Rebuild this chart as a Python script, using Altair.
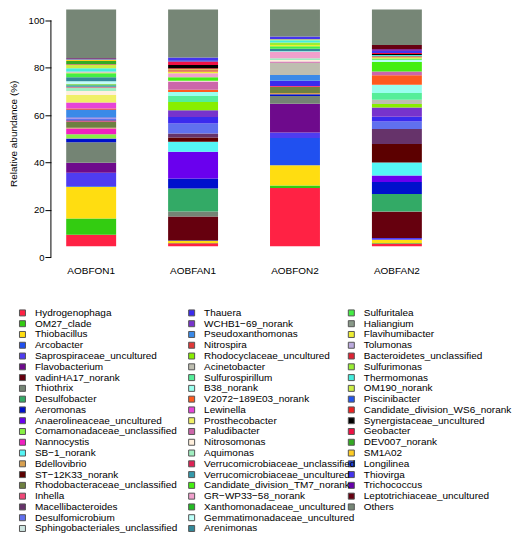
import altair as alt
import pandas as pd

SAMPLES = ["AOBFON1", "AOBFAN1", "AOBFON2", "AOBFAN2"]

CATEGORIES = [
    "Hydrogenophaga", "OM27_clade", "Thiobacillus", "Arcobacter",
    "Saprospiraceae_uncultured", "Flavobacterium", "vadinHA17_norank", "Thiothrix",
    "Desulfobacter", "Aeromonas", "Anaerolineaceae_uncultured", "Comamonadaceae_unclassified",
    "Nannocystis", "SB\u22121_norank", "Bdellovibrio", "ST\u221212K33_norank",
    "Rhodobacteraceae_unclassified", "Inhella", "Macellibacteroides", "Desulfomicrobium",
    "Sphingobacteriales_unclassified",
    "Thauera", "WCHB1\u221269_norank", "Pseudoxanthomonas", "Nitrospira",
    "Rhodocyclaceae_uncultured", "Acinetobacter", "Sulfurospirillum", "B38_norank",
    "V2072\u2212189E03_norank", "Lewinella", "Prosthecobacter", "Paludibacter",
    "Nitrosomonas", "Aquimonas", "Verrucomicrobiaceae_unclassified",
    "Verrucomicrobiaceae_uncultured", "Candidate_division_TM7_norank", "GR\u2212WP33\u221258_norank",
    "Xanthomonadaceae_uncultured", "Gemmatimonadaceae_uncultured", "Arenimonas",
    "Sulfuritalea", "Haliangium", "Flavihumibacter", "Tolumonas",
    "Bacteroidetes_unclassified", "Sulfurimonas", "Thermomonas", "OM190_norank",
    "Piscinibacter", "Candidate_division_WS6_norank", "Synergistaceae_uncultured", "Geobacter",
    "DEV007_norank", "SM1A02", "Longilinea", "Thiovirga", "Trichococcus",
    "Leptotrichiaceae_uncultured", "Others",
]

# relative abundance (%) per genus, same order as CATEGORIES
AOBFON1 = [4.8, 6.9, 13.4, 0.3, 5.6, 4.2, 0, 8.7, 0, 1.4,
           0.2, 1.8, 2.4, 0, 0.3, 0, 2.5, 0.3, 0.4, 0.5,
           0.2, 0.2, 0.3, 3.2, 0.4, 0, 0, 0, 0, 0.2,
           2.5, 3.2, 0, 1.7, 1.4, 0.4, 0.6, 0.4, 0.2, 0,
           1.1, 1.7, 1.7, 0, 0.3, 0.4, 0, 0, 1.4, 1.5,
           0, 0, 0, 0.2, 1.3, 0.7, 0.2, 0.2, 0, 0.2, 20.5]
AOBFAN1 = [1.2, 0.1, 0.9, 0.2, 0, 0, 10.1, 2.1, 9.8, 4.2,
           11.3, 0, 0, 4.2, 0, 1.8, 0, 0, 1.7, 4.2,
           0, 2.8, 2.8, 0, 0, 3.5, 0, 2.5, 1.7, 1.0,
           0, 0, 3.5, 0.3, 0, 0, 0, 1.5, 1.7, 0,
           0, 0, 0, 0, 0.7, 0, 0.5, 0, 0, 0.5,
           0, 0.4, 1.4, 1.4, 0, 0, 0.6, 1.1, 0, 0, 20.3]
AOBFON2 = [24.6, 1.0, 8.6, 11.5, 2.3, 12.2, 0, 3.2, 0, 0.8,
           0, 0, 0, 0, 0.5, 0, 2.6, 0.4, 0, 0,
           0, 2.2, 0, 2.4, 0, 0, 5.2, 0, 0, 0,
           0, 0, 0.5, 0.7, 0.7, 0, 0, 0, 2.6, 0,
           0.4, 1.0, 1.1, 0, 0.5, 0, 0, 1.1, 0.9, 0.4,
           0, 0, 0, 0, 0, 0, 0, 1.2, 0, 0, 11.4]
AOBFAN2 = [1.1, 0.2, 1.4, 0, 0.7, 0, 11.0, 0.3, 7.3, 5.1,
           2.8, 0, 0, 5.4, 0, 7.9, 0, 0, 6.3, 3.2,
           0, 2.0, 3.9, 0, 0, 1.5, 1.8, 2.8, 3.5, 4.0,
           0, 0, 1.6, 0, 0, 0, 0, 4.0, 0, 0,
           1.0, 0, 0.5, 0, 0.5, 0, 0.4, 0, 0.6, 0,
           0, 0, 0.4, 0.4, 0, 0, 0, 1.0, 0.6, 1.8, 15.0]

PALETTE = [
    "#FF2244", "#33CC11", "#FFDD11", "#2050F0", "#4F3CF0", "#6E0A8C", "#66000E",
    "#748474", "#33AA66", "#0010CC", "#6A00EE", "#88F044", "#F020C0", "#55F5F5",
    "#D8A050", "#5C0000", "#6E8040", "#F04878", "#66336A", "#6070EE", "#CCE4E0",
    "#3A2AEE", "#7733CC", "#3A8AE8", "#E03838", "#88EE00", "#BEBEB0", "#55EE99",
    "#99FFEE", "#FF5A1E", "#E644D8", "#F0F066", "#CC66AA", "#FFF0DD", "#A0EEC0",
    "#DD2255", "#3399AA", "#44EE11", "#F0A0CC", "#22BB22", "#BBFFF8", "#338899",
    "#44EE44", "#889988", "#EEEE33", "#BBAADD", "#DD2233", "#99EE33", "#44EEDD",
    "#CCEE44", "#2255EE", "#EE2222", "#000000", "#EE1144", "#33AA22", "#FFCC22",
    "#2244DD", "#4433EE", "#6600AA", "#660011", "#768676",
]

AXIS_RANGE = [0, 100]
BASE = 4.6  # bars in the original start slightly above the 0 tick
FONT = "Liberation Sans"

rows = []
for s, vals in zip(SAMPLES, [AOBFON1, AOBFAN1, AOBFON2, AOBFAN2]):
    cum = 0.0
    for i, (c, v) in enumerate(zip(CATEGORIES, vals)):
        if v <= 0:
            continue
        rows.append(dict(sample=s, genus=c, idx=i, start=cum, end=cum + v, value=v))
        cum += v
df = pd.DataFrame(rows)

color_scale = alt.Scale(domain=CATEGORIES, range=PALETTE)

bars = alt.Chart(df).transform_calculate(
    y0=f"datum.start + {BASE}", y1=f"datum.end + {BASE}"
).mark_bar().encode(
    x=alt.X("sample:N", sort=SAMPLES,
            scale=alt.Scale(paddingInner=0.51, paddingOuter=0.15),
            axis=alt.Axis(title=None, labelAngle=0, domain=False, ticks=False,
                          labelPadding=9, labelFontSize=10, labelFont=FONT,
                          labelColor="black")),
    y=alt.Y("y0:Q", scale=alt.Scale(domain=[0, 104.6], nice=False, zero=True),
            axis=alt.Axis(values=[0, 20, 40, 60, 80, 100], domain=False, grid=False,
                          tickSize=6, tickColor="black", labelPadding=1,
                          labelFontSize=9.5, labelFont=FONT, labelColor="black",
                          title="Relative abundance (%)", titleFont=FONT,
                          titleFontSize=10, titleFontWeight="normal",
                          titleColor="black", titlePadding=10)),
    y2="y1:Q",
    color=alt.Color("genus:N", scale=color_scale, legend=None),
    order=alt.Order("idx:Q"),
    tooltip=["sample", "genus", "value"],
)

axis_line = alt.Chart(pd.DataFrame({"lo": [AXIS_RANGE[0]], "hi": [AXIS_RANGE[1]]})).mark_rule(
    color="black", strokeWidth=1
).encode(x=alt.value(0), y="lo:Q", y2="hi:Q")

top = alt.layer(bars, axis_line).properties(width=387, height=248)

leg_df = pd.DataFrame({
    "genus": CATEGORIES,
    "col": [i // 21 for i in range(len(CATEGORIES))],
    "row": [i % 21 for i in range(len(CATEGORIES))],
})
lx = alt.X("col:Q", scale=alt.Scale(domain=[0, 1, 2], range=[-28.5, 141, 301]), axis=None)
ly = alt.Y("row:Q", scale=alt.Scale(domain=[0, 20], range=[37, 253]), axis=None)

squares = alt.Chart(leg_df).mark_square(size=36, opacity=1, stroke="#555555",
                                         strokeWidth=1).encode(
    x=lx, y=ly, color=alt.Color("genus:N", scale=color_scale, legend=None))
labels = alt.Chart(leg_df).mark_text(align="left", baseline="middle", dx=12.5,
                                      fontSize=10, font=FONT, color="black").encode(
    x=lx, y=ly, text="genus:N")

legend_chart = alt.layer(squares, labels).properties(width=387, height=258)

chart = alt.vconcat(top, legend_chart, spacing=0).properties(
    padding=0
).configure_view(stroke=None)

chart.save("out.html", embed_options={"renderer": "svg", "actions": False})
